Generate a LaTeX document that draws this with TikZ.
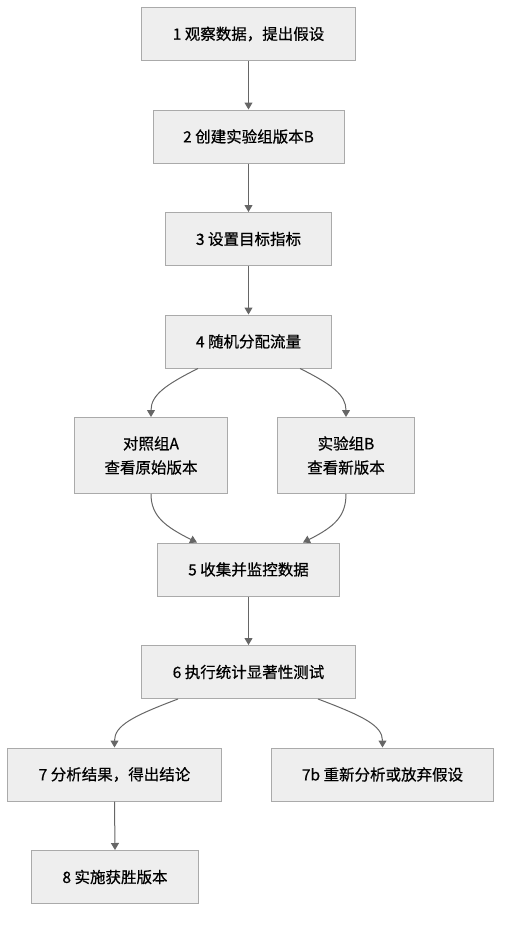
\documentclass[tikz,border=0pt]{standalone}
\usepackage{fontspec}
\setmainfont{Noto Sans CJK SC}[FakeBold=0.6]
\usepackage{tikz}
\usepackage{color}
\usetikzlibrary{positioning,arrows.meta}
\definecolor{boxfill}{HTML}{EEEEEE}
\definecolor{boxline}{HTML}{AAAAAA}
\definecolor{flowline}{HTML}{666666}

\begin{document}
\begin{tikzpicture}[
					node distance=48.5pt,
					block/.style={rectangle, draw=boxline, fill=boxfill, line width=1pt, minimum height=53pt, inner xsep=4pt, font=\fontsize{15.5pt}{24pt}\selectfont},
					twoline/.style={block, minimum height=76pt, align=center},
					flow/.style={draw=flowline, line width=1pt, -{Triangle[length=7pt, width=8pt]}}
				]
				\useasboundingbox (0,0) rectangle (510pt,-926pt);
				\node[block, minimum width=214pt] (observe) at (248.5pt,-34pt) {1 观察数据，提出假设};
				\node[block, minimum width=191pt] (build) [below=of observe] {2 创建实验组版本B};
				\node[block, minimum width=166pt] (metric) [below=of build] {3 设置目标指标};
				\node[block, minimum width=166pt] (split) [below=of metric] {4 随机分配流量};
				\node[twoline, minimum width=153pt] (groupa) [below=of split, xshift=-97.5pt] {对照组A\\查看原始版本};
				\node[twoline, minimum width=137pt] (groupb) [below=of split, xshift=97.5pt] {实验组B\\查看新版本};
				\coordinate (merge) at (groupa.south -| split.south);
				\node[block, minimum width=182pt] (collect) [below=of merge] {5 收集并监控数据};
				\node[block, minimum width=214pt] (stattest) [below=of collect] {6 执行统计显著性测试};
				\node[block, minimum width=214pt] (analyse) [below=of stattest, xshift=-134pt] {7 分析结果，得出结论};
				\node[block, minimum width=222pt] (rethink) [below=of stattest, xshift=134pt] {7b 重新分析或放弃假设};
				\node[block, minimum width=167pt] (ship) [below=of analyse, xshift=0.5pt] {8 实施获胜版本};
				\begin{scope}[flow]
				\draw (observe.south) -- (build.north);
				\draw (build.south) -- (metric.north);
				\draw (metric.south) -- (split.north);
				\draw ([xshift=-50.5pt]split.south) .. controls +(-32pt,-16pt) and +(0,22pt) .. (groupa.north);
				\draw ([xshift=51.5pt]split.south) .. controls +(32pt,-16pt) and +(0,22pt) .. (groupb.north);
				\draw (groupa.south) .. controls +(0,-22pt) and +(-32pt,16pt) .. ([xshift=-51.5pt]collect.north);
				\draw (groupb.south) .. controls +(0,-22pt) and +(32pt,16pt) .. ([xshift=54.5pt]collect.north);
				\draw (collect.south) -- (stattest.north);
				\draw ([xshift=-70.5pt]stattest.south) .. controls +(-45pt,-17pt) and +(0,22pt) .. (analyse.north);
				\draw ([xshift=69.5pt]stattest.south) .. controls +(45pt,-17pt) and +(0,22pt) .. (rethink.north);
				\draw (analyse.south) -- (ship.north);
				\end{scope}
\end{tikzpicture}
\end{document}
